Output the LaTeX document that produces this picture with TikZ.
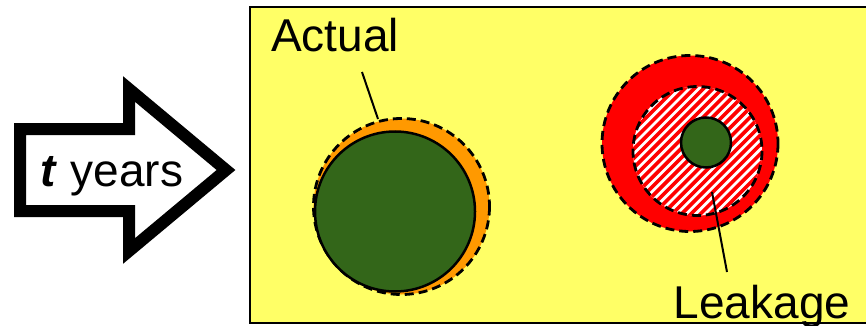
\documentclass[tikz,border=0pt]{standalone}
\usepackage{fontspec}
\setmainfont{Liberation Sans}
\definecolor{bgyellow}{HTML}{FFFF66}
\definecolor{leaforange}{HTML}{FF9900}
\definecolor{leafgreen}{HTML}{336619}
\definecolor{leakred}{HTML}{FF0000}
\begin{document}
\begin{tikzpicture}[x=1pt,y=-1pt,
  lbl/.style={font=\fontsize{46}{50}\selectfont, inner sep=0pt, anchor=base},
  dashedring/.style={draw=black, line width=2.8pt, dash pattern=on 9pt off 5pt},
  solidring/.style={draw=black, line width=2.5pt},
  leader/.style={draw=black, line width=2pt}]
\useasboundingbox (0,0) rectangle (866,326);
\fill[white] (0,0) rectangle (866,326);
% yellow panel
\draw[fill=bgyellow, line width=2.5pt] (250,7) rectangle (880,323);
% arrow
\draw[line width=12pt, line join=miter, fill=white]
  (20,129) -- (129,129) -- (129,89) -- (226,170) -- (129,251) -- (129,211) -- (20,211) -- cycle;
\node[lbl] (t) at (112,186) {\textbf{\itshape t} years};
% left circle
\fill[leaforange] (401.5,206.5) circle (88);
\draw[dashedring] (401.5,206.5) circle (88);
\draw[solidring, fill=leafgreen] (395,211.5) circle (80);
\node[lbl] (actual) at (335,52) {Actual};
\coordinate (actualtip) at (378,119);
\coordinate (actualstart) at (362,72);
\draw[leader] (actualstart) -- (actualtip);
% right circles
\fill[leakred] (690,143.5) circle (88);
\draw[dashedring] (690,143.5) circle (88);
\begin{scope}
  \clip (697.5,151) circle (64.5);
  \fill[white] (697.5,151) circle (65);
  \foreach \k in {-20,...,20} {
    \draw[leakred, line width=3.6pt] ({697.5+9.4*\k-100},251) -- ({697.5+9.4*\k+100},51);
  }
\end{scope}
\draw[dashedring] (697.5,151) circle (64.5);
\draw[solidring, fill=leafgreen] (706,142.5) circle (25);
\node[lbl] (leakage) at (762,318) {Leakage};
\coordinate (leaktip) at (712,192);
\coordinate (leakstart) at (727,272);
\draw[leader] (leakstart) -- (leaktip);
\end{tikzpicture}
\end{document}
